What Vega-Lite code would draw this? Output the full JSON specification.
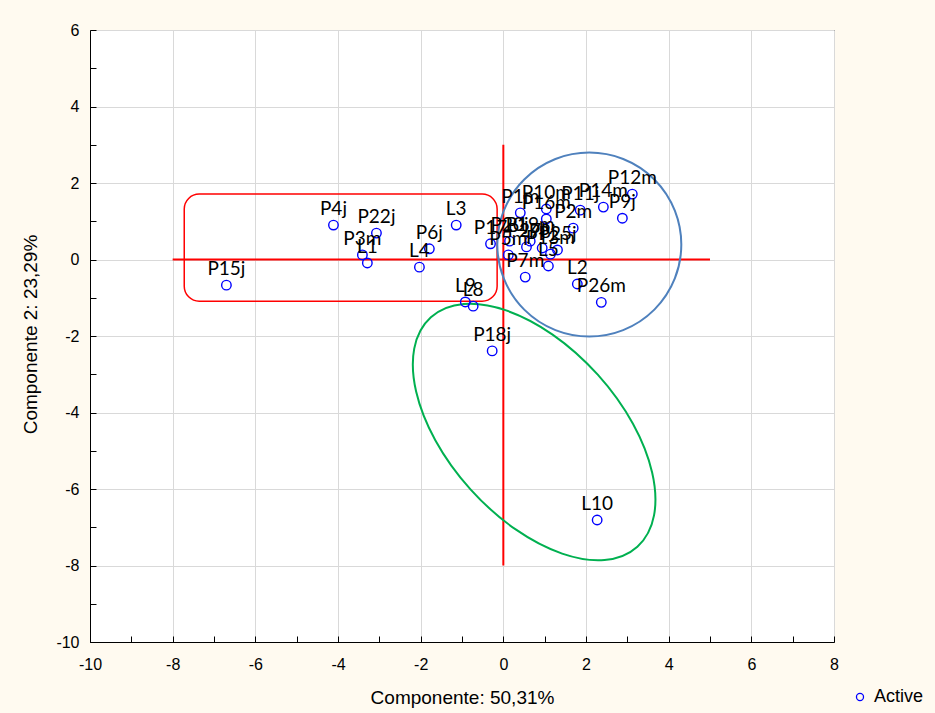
{
  "$schema": "https://vega.github.io/schema/vega-lite/v6.json",
  "width": 744,
  "height": 612,
  "autosize": "none",
  "padding": {"left": 90, "top": 30, "right": 101, "bottom": 71},
  "background": "#fffaf0",
  "config": {
    "view": {"fill": "white", "stroke": "black", "strokeWidth": 1},
    "font": "Liberation Sans"
  },
  "datasets": {
    "pts": [
      {"name": "P15j", "x": -6.70, "y": -0.67, "series": "Active"},
      {"name": "P4j", "x": -4.11, "y": 0.90, "series": "Active"},
      {"name": "P22j", "x": -3.07, "y": 0.69, "series": "Active"},
      {"name": "P3m", "x": -3.41, "y": 0.12, "series": "Active"},
      {"name": "L1", "x": -3.29, "y": -0.09, "series": "Active"},
      {"name": "P6j", "x": -1.79, "y": 0.28, "series": "Active"},
      {"name": "L4", "x": -2.03, "y": -0.20, "series": "Active"},
      {"name": "L3", "x": -1.14, "y": 0.90, "series": "Active"},
      {"name": "P17", "x": -0.31, "y": 0.41, "series": "Active"},
      {"name": "L9", "x": -0.92, "y": -1.11, "series": "Active"},
      {"name": "L8", "x": -0.73, "y": -1.22, "series": "Active"},
      {"name": "P18j", "x": -0.27, "y": -2.39, "series": "Active"},
      {"name": "L10", "x": 2.27, "y": -6.81, "series": "Active"},
      {"name": "P26m", "x": 2.37, "y": -1.12, "series": "Active"},
      {"name": "L2", "x": 1.79, "y": -0.64, "series": "Active"},
      {"name": "P7m", "x": 0.53, "y": -0.46, "series": "Active"},
      {"name": "L5", "x": 1.09, "y": -0.17, "series": "Active"},
      {"name": "P12m", "x": 3.12, "y": 1.71, "series": "Active"},
      {"name": "P9j", "x": 2.88, "y": 1.08, "series": "Active"},
      {"name": "P14m", "x": 2.42, "y": 1.37, "series": "Active"},
      {"name": "P11j", "x": 1.86, "y": 1.29, "series": "Active"},
      {"name": "P10m", "x": 1.04, "y": 1.32, "series": "Active"},
      {"name": "P16m", "x": 1.04, "y": 1.06, "series": "Active"},
      {"name": "P1m", "x": 0.41, "y": 1.22, "series": "Active"},
      {"name": "P2m", "x": 1.69, "y": 0.82, "series": "Active"},
      {"name": "P5m", "x": 0.12, "y": 0.12, "series": "Active"},
      {"name": "P20j", "x": 0.15, "y": 0.48, "series": "Active"},
      {"name": "P27j", "x": 0.56, "y": 0.33, "series": "Active"},
      {"name": "P19m", "x": 0.65, "y": 0.48, "series": "Active"},
      {"name": "P8j", "x": 0.94, "y": 0.30, "series": "Active"},
      {"name": "P25j", "x": 1.31, "y": 0.25, "series": "Active"},
      {"name": "P13m", "x": 1.14, "y": 0.14, "series": "Active"}
    ]
  },
  "encoding": {
    "x": {
      "field": "x",
      "type": "quantitative",
      "scale": {"domain": [-10, 8], "nice": false, "zero": false},
      "axis": {
        "title": "Componente: 50,31%",
        "values": [-10, -9, -8, -7, -6, -5, -4, -3, -2, -1, 0, 1, 2, 3, 4, 5, 6, 7, 8],
        "labelExpr": "abs(datum.value) % 2 == 0 ? toString(datum.value) : ''",
        "grid": true,
        "gridColor": "#d9d9d9",
        "gridOpacity": {"condition": {"test": "abs(datum.value) % 2 == 1", "value": 0}, "value": 1},
        "tickSize": -6,
        "tickColor": "black",
        "domainColor": "black",
        "labelFontSize": 16,
        "labelColor": "black",
        "labelPadding": 20,
        "labelFlush": false,
        "labelOverlap": false,
        "titleFontSize": 19,
        "titleFontWeight": "normal",
        "titleColor": "black",
        "titleX": 372,
        "titleY": 55,
        "titleBaseline": "middle"
      }
    },
    "y": {
      "field": "y",
      "type": "quantitative",
      "scale": {"domain": [-10, 6], "nice": false, "zero": false},
      "axis": {
        "title": "Componente 2: 23,29%",
        "values": [-10, -9, -8, -7, -6, -5, -4, -3, -2, -1, 0, 1, 2, 3, 4, 5, 6],
        "labelExpr": "abs(datum.value) % 2 == 0 ? toString(datum.value) : ''",
        "grid": true,
        "gridColor": "#d9d9d9",
        "gridOpacity": {"condition": {"test": "abs(datum.value) % 2 == 1", "value": 0}, "value": 1},
        "tickSize": -6,
        "tickColor": "black",
        "domainColor": "black",
        "labelFontSize": 16,
        "labelColor": "black",
        "labelPadding": 17,
        "labelFlush": false,
        "labelOverlap": false,
        "titleFontSize": 19,
        "titleFontWeight": "normal",
        "titleColor": "black",
        "titleX": -60,
        "titleY": 304,
        "titleAngle": -90,
        "titleAlign": "center",
        "titleBaseline": "middle"
      }
    }
  },
  "layer": [
    {
      "data": {"values": [{"x": -7.72, "x2": -0.15, "y": 1.71, "y2": -1.09}]},
      "mark": {"type": "rect", "fillOpacity": 0, "stroke": "#ff0000", "strokeWidth": 1.5, "cornerRadius": 15},
      "encoding": {"x2": {"field": "x2"}, "y2": {"field": "y2"}}
    },
    {
      "data": {"values": [{"x": -8, "x2": 5, "y": 0, "y2": 0}, {"x": 0, "x2": 0, "y": 3, "y2": -8}]},
      "mark": {"type": "rule", "color": "#ff0000", "strokeWidth": 2},
      "encoding": {"x2": {"field": "x2"}, "y2": {"field": "y2"}}
    },
    {
      "data": {"values": [{"x": 2.08, "y": 0.39}]},
      "mark": {"type": "point", "shape": "circle", "filled": false, "size": 33856, "stroke": "#4f81bd", "strokeWidth": 2, "opacity": 1}
    },
    {
      "data": {"values": [{"x": 0.745, "y": -4.51}]},
      "mark": {
        "type": "point",
        "shape": "M1,0C1,0.3065,0.5523,0.555,0,0.555C-0.5523,0.555,-1,0.3065,-1,0C-1,-0.3065,-0.5523,-0.555,0,-0.555C0.5523,-0.555,1,-0.3065,1,0Z",
        "filled": false,
        "size": 95234,
        "angle": 48,
        "stroke": "#00b050",
        "strokeWidth": 2,
        "opacity": 1
      }
    },
    {
      "data": {"name": "pts"},
      "mark": {"type": "point", "shape": "circle", "filled": false, "size": 90, "strokeWidth": 1.4, "opacity": 1},
      "encoding": {
        "color": {
          "field": "series",
          "type": "nominal",
          "scale": {"range": ["#0000ff"]},
          "legend": {
            "orient": "none",
            "legendX": 761,
            "legendY": 658,
            "title": null,
            "padding": 0,
            "symbolSize": 50,
            "symbolStrokeWidth": 1.3,
            "symbolType": "circle",
            "labelFontSize": 18,
            "labelFont": "Liberation Sans",
            "labelColor": "black",
            "labelOffset": 5,
            "labelLimit": 0
          }
        }
      }
    },
    {
      "data": {"name": "pts"},
      "mark": {"type": "text", "font": "Lato", "fontSize": 19, "dy": -10, "baseline": "alphabetic", "align": "center", "color": "black"},
      "encoding": {"text": {"field": "name"}}
    }
  ]
}
